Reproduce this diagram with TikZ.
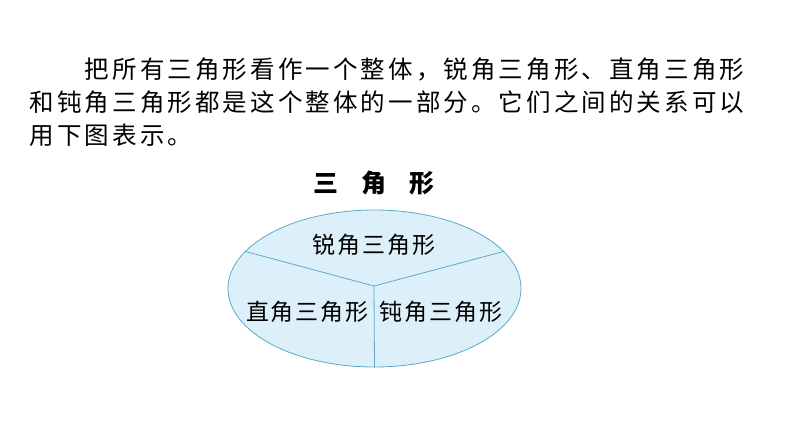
\documentclass[tikz,border=0pt]{standalone}
\usepackage{fontspec}
\usetikzlibrary{shapes.geometric}
\newfontfamily\cjk{Noto Sans CJK SC}
\definecolor{fillblue}{RGB}{221,240,249}
\definecolor{lineblue}{RGB}{92,170,200}
\newlength\pitch
\def\sploop#1{\ifx#1\relax\else\makebox[\pitch]{#1}\expandafter\sploop\fi}
\def\spaced#1#2{\setlength\pitch{#1}\sploop#2\relax}
\tikzset{
  para/.style={anchor=west,inner sep=0pt,font=\cjk\fontsize{24.5pt}{24.5pt}\selectfont},
  title/.style={inner sep=0pt,font=\cjk\bfseries\fontsize{25pt}{25pt}\selectfont},
  part/.style={inner sep=0pt,font=\cjk\fontsize{23pt}{23pt}\selectfont},
  whole/.style={ellipse,draw=lineblue,fill=fillblue,line width=0.8pt,inner sep=0pt,minimum width=293pt,minimum height=157pt},
  divider/.style={draw=lineblue,line width=0.8pt}
}
\begin{document}
\begin{tikzpicture}[x=1pt,y=-1pt]
\useasboundingbox (0,0) rectangle (794,447);
\node[para] (l1) at (83.2,69) {\spaced{27.6pt}{把所有三角形看作一个整体，锐角三角形、直角三角形}};
\node[para] (l2) at (28,102) {\spaced{27.6pt}{和钝角三角形都是这个整体的一部分。它们之间的关系可以}};
\node[para] (l3) at (28,135) {\spaced{27.6pt}{用下图表示。}};
\node[title] (t) at (374,183) {\spaced{48pt}{三角形}};
\node[whole] (e) at (374.5,288.5) {};
\coordinate (c) at (374,286);
\draw[divider] (c) -- (e.164);
\draw[divider] (c) -- (e.16);
\draw[divider] (c) -- (e.south);
\node[part] (a) at (374,245) {\spaced{25pt}{锐角三角形}};
\node[part] (r) at (307.5,312) {\spaced{25pt}{直角三角形}};
\node[part] (o) at (441,312) {\spaced{25pt}{钝角三角形}};
\end{tikzpicture}
\end{document}
